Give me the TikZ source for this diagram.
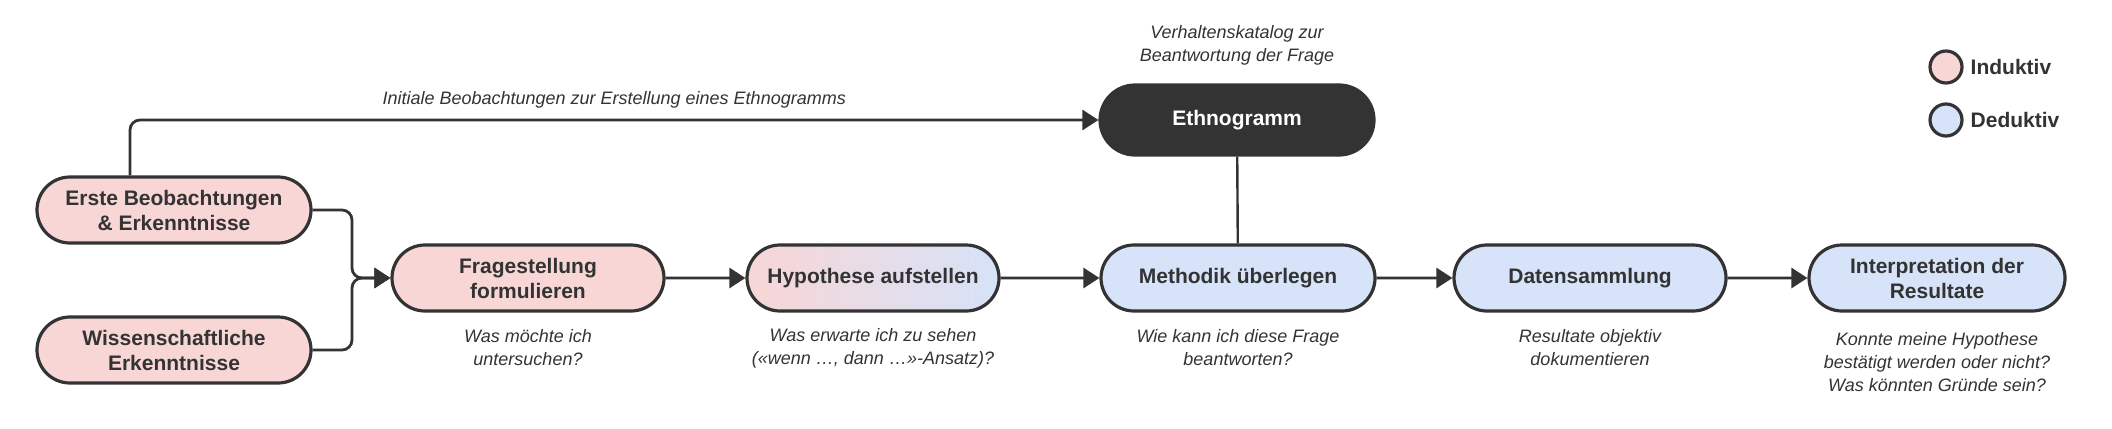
\documentclass[tikz,border=0pt]{standalone}
\usepackage{fontspec}
\setmainfont{Liberation Sans}
\usetikzlibrary{shapes.misc,arrows.meta}
\definecolor{ink}{HTML}{333333}
\definecolor{induktiv}{HTML}{F8D6D6}
\definecolor{deduktiv}{HTML}{D6E3F8}
\tikzset{
  stepbox/.style={rounded rectangle, draw=ink, line width=1.6pt, minimum height=33pt, inner xsep=2pt, align=center, font=\bfseries\fontsize{10.5}{12.5}\selectfont, text=ink},
  note/.style={align=center, font=\itshape\fontsize{9}{11.5}\selectfont, text=ink},
  flow/.style={draw=ink, line width=1.4pt, rounded corners=5pt, -{Triangle[length=8pt,width=10pt]}}
}
\begin{document}
\begin{tikzpicture}[x=0.5pt,y=-0.5pt]
		\useasboundingbox (0,0) rectangle (2112,428);
		\node[stepbox, fill=induktiv, minimum width=141pt] (erste) at (174,210) {Erste Beobachtungen\\\& Erkenntnisse};
		\node[stepbox, fill=induktiv, minimum width=141pt] (wiss) at (174,350) {Wissenschaftliche\\Erkenntnisse};
		\node[stepbox, fill=induktiv, minimum width=140pt] (frage) at (528,278) {Fragestellung\\formulieren};
		\node[stepbox, left color=induktiv, right color=deduktiv, minimum width=130pt] (hypo) at (873,278) {Hypothese aufstellen};
		\node[stepbox, fill=deduktiv, minimum width=141pt] (methodik) at (1238,278) {Methodik überlegen};
		\node[stepbox, fill=deduktiv, minimum width=140pt] (daten) at (1590,278) {Datensammlung};
		\node[stepbox, fill=deduktiv, minimum width=132pt] (interp) at (1937,278) {Interpretation der\\Resultate};
		\node[stepbox, fill=ink, draw=ink, text=white, minimum width=141pt, minimum height=35pt] (ethno) at (1237,120) {Ethnogramm};
		% notes
		\node[note] (nfrage) at (528,348) {Was möchte ich\\untersuchen?};
		\node[note] (nhypo) at (873,348) {Was erwarte ich zu sehen\\(«wenn \dots, dann \dots»-Ansatz)?};
		\node[note] (nmethodik) at (1238,348) {Wie kann ich diese Frage\\beantworten?};
		\node[note] (ndaten) at (1590,348) {Resultate objektiv\\dokumentieren};
		\node[note] (ninterp) at (1937,362) {Konnte meine Hypothese\\bestätigt werden oder nicht?\\Was könnten Gründe sein?};
		\node[note] (nethno) at (1237,45) {Verhaltenskatalog zur\\Beantwortung der Frage};
		% legend
		\node[circle, draw=ink, line width=1.6pt, fill=induktiv, minimum size=16pt] (lind) at (1946,67) {};
		\node[circle, draw=ink, line width=1.6pt, fill=deduktiv, minimum size=16pt] (lded) at (1946,120) {};
		\node[anchor=west, font=\bfseries\fontsize{10.5}{12.5}\selectfont, text=ink] (tind) at (lind.east) {Induktiv};
		\node[anchor=west, font=\bfseries\fontsize{10.5}{12.5}\selectfont, text=ink] (tded) at (lded.east) {Deduktiv};
		% connectors
		\draw[flow] (erste.north -| 130,0) |- node[note, pos=0.75, above=2pt] {Initiale Beobachtungen zur Erstellung eines Ethnogramms} (ethno.west);
		\draw[flow] (erste.east) -| (352,278) -- (frage.west);
		\draw[flow] (wiss.east) -| (352,278) -- (frage.west);
		\draw[flow] (frage) -- (hypo);
		\draw[flow] (hypo) -- (methodik);
		\draw[flow] (methodik) -- (daten);
		\draw[flow] (daten) -- (interp);
		\draw[draw=ink, line width=1.2pt] (ethno) -- (methodik);
	\end{tikzpicture}
\end{document}
